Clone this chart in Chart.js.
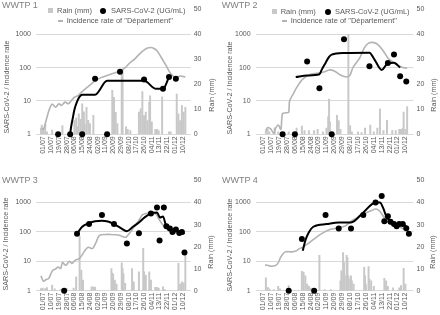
<!DOCTYPE html>
<html>
<head>
<meta charset="utf-8">
<script src="https://cdn.jsdelivr.net/npm/chart.js@4.4.0/dist/chart.umd.min.js"></script>
<style>
  body { margin: 0; width: 440px; height: 315px; background: #fff; overflow: hidden;
         font-family: "Liberation Sans", Arial, sans-serif; color: #595959; }
  canvas { position: absolute; }
  .ttl { position: absolute; font-size: 9px; line-height: 1; color: #808080; white-space: nowrap; }
  .lg { position: absolute; font-size: 7.5px; line-height: 1; white-space: nowrap; }
  .ax { position: absolute; font-size: 7.2px; line-height: 1; white-space: nowrap;
        transform: translate(-50%, -50%) rotate(-90deg); }
  .sq { position: absolute; width: 5px; height: 5px; background: #c8c8c8; }
  .dot { position: absolute; width: 6px; height: 6px; border-radius: 50%; background: #000; }
  .dash { position: absolute; width: 5px; height: 1.5px; background: #b3b3b3; }
</style>
</head>
<body>

<canvas id="c1" width="220" height="155" style="left:0;top:0"></canvas>
<canvas id="c2" width="220" height="155" style="left:220px;top:0"></canvas>
<canvas id="c3" width="220" height="160" style="left:0;top:155px"></canvas>
<canvas id="c4" width="220" height="160" style="left:220px;top:155px"></canvas>

<!-- panel titles -->
<div class="ttl" style="left:2px;top:0.5px">WWTP 1</div>
<div class="ttl" style="left:221.7px;top:0.5px">WWTP 2</div>
<div class="ttl" style="left:2px;top:175.5px">WWTP 3</div>
<div class="ttl" style="left:222px;top:175.5px">WWTP 4</div>

<!-- legends (top panels only) -->
<div class="sq" style="left:48.3px;top:8.3px"></div>
<div class="lg" style="left:57px;top:7.3px">Rain (mm)</div>
<div class="dot" style="left:100.3px;top:8px"></div>
<div class="lg" style="left:111px;top:7.3px">SARS-CoV-2 (UG/mL)</div>
<div class="dash" style="left:58px;top:20px"></div>
<div class="lg" style="left:66.7px;top:17.3px">Incidence rate of &quot;Département&quot;</div>

<div class="sq" style="left:272px;top:8.7px"></div>
<div class="lg" style="left:280.7px;top:8px">Rain (mm)</div>
<div class="dot" style="left:324.7px;top:8.7px"></div>
<div class="lg" style="left:335px;top:8px">SARS-CoV-2 (UG/mL)</div>
<div class="dash" style="left:281.7px;top:20.3px"></div>
<div class="lg" style="left:290.7px;top:17.3px">Incidence rate of &quot;Département&quot;</div>

<!-- axis titles -->
<div class="ax" style="left:6.5px;top:86.5px">SARS-CoV-2 / Incidence rate</div>
<div class="ax" style="left:229.6px;top:87.5px">SARS-CoV-2 / Incidence rate</div>
<div class="ax" style="left:6.4px;top:244px">SARS-CoV-2 / Incidence rate</div>
<div class="ax" style="left:229.6px;top:245px">SARS-CoV-2 / Incidence rate</div>
<div class="ax" style="left:211.5px;top:95px">Rain (mm)</div>
<div class="ax" style="left:433.5px;top:95px">Rain (mm)</div>
<div class="ax" style="left:210.5px;top:252px">Rain (mm)</div>
<div class="ax" style="left:433px;top:252px">Rain (mm)</div>

<script>
// x axis: days counted from 01/07, one label every 9 days
const tickLabels = ['01/07', '10/07', '19/07', '28/07', '06/08', '15/08', '24/08', '02/09', '11/09',
  '20/09', '29/09', '08/10', '17/10', '26/10', '04/11', '13/11', '22/11', '01/12', '10/12'];
const tickDays = tickLabels.map((t, i) => i * 9);

// ---- WWTP 1 ----
const rainDays1 = [-3, -2, -1, 0, 2, 4, 10, 22, 36, 38, 39, 41, 43, 45, 47, 48, 50, 52, 54, 58,
  80, 82, 84, 86, 91, 92, 96, 98, 101, 111, 113, 115, 117, 119, 121, 123, 124, 126,
  130, 132, 134, 138, 146, 148, 155, 157, 159, 161, 163, 165];
const rainMm1 = [2.5, 3.7, 2.0, 1.5, 4.0, 1.0, 1.7, 3.5, 5.5, 6.5, 3.0, 8.2, 6.0, 12.2, 9.0, 4.0, 10.8, 5.6, 4.3, 7.6,
  17.6, 14.8, 8.8, 4.3, 26, 26, 3.0, 2.0, 1.5, 8.9, 10.2, 17.1, 7.5, 8.9, 5.5, 12.8, 15.4, 5.0,
  2.0, 2.0, 1.5, 15.0, 1.0, 1.0, 16.1, 8.2, 5.5, 11.5, 8.9, 10.8];
const sarsDays1 = [17, 31, 45, 60, 74, 89, 117, 139, 146, 154];
const sarsVals1 = [1, 1, 1, 46, 1, 75, 44, 23, 52, 46];
const trendDays1 = [31, 32, 34, 36, 39, 42, 45, 60, 74, 117, 131, 139, 146];
const trendVals1 = [1, 1.6, 3, 5.5, 9.5, 13.5, 15.4, 15.4, 40, 40, 23, 23, 52];
const incDays1 = [-2, 0, 3, 7, 10, 14, 18, 21, 25, 29, 32, 36, 40, 45, 52, 60, 67, 78, 89, 95, 100,
  106, 111, 116, 121, 125, 128, 132, 137, 143, 148, 154, 159, 165];
const incVals1 = [1.5, 1.4, 2.6, 5.8, 8, 6.5, 8.2, 7.3, 9.2, 8.2, 10, 12.9, 14.5, 19, 27, 40, 50, 63, 79, 100, 135,
  180, 245, 320, 385, 400, 380, 320, 200, 110, 65, 50, 56, 52];

// ---- WWTP 2 ----
const rainDays2 = [3, 5, 7, 13, 17, 24, 29, 38, 44, 47, 52, 58, 62, 68, 72, 74, 75, 76, 84, 85, 86, 88,
  97, 99, 101, 108, 112, 116, 122, 126, 130, 133, 137, 141, 147, 151, 155, 157, 159, 160, 162, 164];
const rainMm2 = [1.5, 2, 1, 2.6, 1, 1, 1, 2.5, 3.3, 1.5, 1.5, 1.5, 2, 1, 2.5, 7, 14.1, 5, 7.6, 5.5, 5.4, 2,
  40, 3.5, 1, 1, 0.7, 2.5, 3.7, 1, 2.5, 10.2, 1.5, 5.6, 1.5, 1.5, 2, 2, 2.5, 8.9, 2, 11.1];
const sarsDays2 = [22, 36, 50, 64, 78, 92, 121, 142, 149, 156, 163];
const sarsVals2 = [1, 1, 152, 24, 1, 710, 110, 138, 245, 55, 38];
const trendDays2 = [37, 50, 64, 67, 71, 75, 78, 92, 121, 127, 135, 142, 149, 156];
const trendVals2 = [52, 58, 63, 90, 138, 210, 245, 275, 280, 170, 85, 135, 140, 100];
const incDays2 = [3, 5, 9, 12, 14, 17, 20, 21, 22, 26, 29, 30, 34, 38, 45, 54, 65, 70, 75, 81, 88, 95, 99,
  102, 110, 115, 120, 126, 131, 137, 142, 147, 153, 158, 164];
const incVals2 = [1.3, 1.6, 1.4, 1.05, 1.5, 1.9, 1.4, 2.6, 4.2, 4.4, 4.6, 10, 16, 25, 45, 63, 70, 75, 85, 79, 60, 52, 60,
  98, 195, 385, 540, 560, 480, 310, 195, 150, 118, 103, 95];

// ---- WWTP 3 ----
const rainDays3 = [-3, -2, -1, 2, 4, 10, 13, 20, 27, 35, 38, 42, 44, 46, 56, 58, 60, 79, 80, 81, 83, 85,
  91, 92, 93, 95, 103, 105, 111, 116, 117, 119, 123, 125, 130, 132, 134, 139, 141, 157, 159, 161, 163, 165];
const rainMm3 = [1, 0.6, 1.2, 1, 1.4, 2.6, 0.8, 0.5, 1, 1.2, 6.3, 24.5, 9.4, 4.8, 1.8, 1.8, 1.5, 10, 8, 7.5, 4.8, 3,
  12.7, 10, 7.8, 3.3, 10, 4, 8.6, 19.2, 8.6, 7, 8.6, 4.8, 1.5, 1.5, 1.2, 1.8, 0.5, 12.4, 3, 4, 3.6, 18.4];
const sarsDays3 = [24, 39, 53, 68, 82, 97, 111, 125, 132, 135, 140, 143, 147, 150, 154, 158, 161, 164];
const sarsVals3 = [1, 86, 185, 380, 185, 40, 90, 425, 675, 51, 675, 155, 132, 100, 120, 92, 100, 20];
const trendDays3 = [39, 45, 53, 60, 68, 75, 82, 90, 97, 104, 111, 118, 125, 132, 135.6, 139, 143, 147,
  150, 154, 158, 161, 164];
const trendVals3 = [86, 150, 200, 230, 240, 225, 185, 135, 105, 150, 210, 320, 425, 455, 310, 335, 155, 142,
  102, 120, 93, 100, 86];
const incDays3 = [-3, 0, 3, 6, 9, 11, 14, 17, 20, 22, 26, 30, 33, 37, 41, 44, 48, 52, 57, 61, 64, 67, 72, 78,
  84, 89, 93, 96, 100, 104, 108, 112, 115, 119, 123, 127, 131, 134, 138, 142, 146, 152, 158, 163];
const incVals3 = [3.2, 2.1, 2.4, 2.6, 4, 5, 5.5, 6.4, 5.7, 9, 7.3, 10, 8.5, 11, 12, 15, 23, 30, 27, 43, 70, 80, 82, 82,
  80, 76, 68, 66, 90, 130, 185, 280, 380, 420, 440, 430, 400, 280, 185, 135, 117, 95, 90, 88];

// ---- WWTP 4 ----
const rainDays4 = [3, 5, 7, 12, 17, 19, 29, 44, 46, 48, 50, 52, 54, 56, 64, 70, 77, 88, 89, 91, 92, 93,
  95, 96, 97, 99, 100, 101, 103, 115, 116, 117, 120, 121, 123, 126, 138, 140, 142, 148, 155, 157, 160, 162];
const rainMm4 = [5.8, 1.5, 0.8, 0.5, 2, 0.8, 2.3, 8.8, 8.5, 6.8, 3, 2, 1.2, 0.8, 16, 0.5, 0.5, 4.5, 9, 17.3, 12.8, 6.8,
  16, 15, 6.8, 5.3, 6.8, 4.5, 3, 10.6, 6.8, 3, 11, 5.3, 4.5, 2, 5.6, 4.5, 2, 1.3, 1.3, 2.3, 10.1, 3];
const sarsDays4 = [29, 44, 58, 71, 86, 100, 114, 128, 135, 138, 142, 145, 149, 152, 155, 159, 163, 166];
const sarsVals4 = [1, 58, 1, 375, 130, 130, 375, 1000, 1660, 230, 340, 220, 185, 155, 185, 185, 133, 86];
const trendDays4 = [45, 48, 52, 57, 72, 86, 100, 114, 128, 133, 136.5, 140, 144, 147, 151, 154.5, 158, 162, 165];
const trendVals4 = [23, 51, 97, 150, 185, 210, 210, 460, 1000, 1000, 670, 355, 240, 210, 185, 195, 200, 163, 126];
const incDays4 = [2, 5, 9, 14, 17, 20, 25, 32, 38, 41, 45, 48, 52, 58, 66, 76, 87, 94, 101, 107, 112, 118,
  123, 128, 131, 134, 139, 145, 154, 163, 166];
const incVals4 = [7.5, 7.3, 6.8, 7.2, 8.8, 14, 21, 21, 23, 27, 30, 35, 42, 58, 86, 120, 142, 163, 240, 300, 375, 460,
  525, 600, 560, 460, 275, 185, 155, 110, 100];

Chart.defaults.font.family = '"Liberation Sans", Arial, sans-serif';
Chart.defaults.font.size = 7;
Chart.defaults.color = '#595959';

function pts(xs, ys) {
  return xs.map((x, i) => ({ x: x, y: ys[i] }));
}

// one panel = rain bars (right axis) + sars dots, trend and incidence lines (log axis)
function buildPanel(id, d, box) {
  return new Chart(document.getElementById(id), {
    type: 'line',
    data: {
      datasets: [
        {
          label: 'SARS-CoV-2 (UG/mL)',
          data: pts(d.sarsDays, d.sarsVals),
          yAxisID: 'y',
          showLine: false,
          pointRadius: 3,
          pointBackgroundColor: '#000',
          pointBorderColor: '#000',
          pointBorderWidth: 0,
          clip: false,
          order: 0
        },
        {
          label: 'trend',
          data: pts(d.trendDays, d.trendVals),
          yAxisID: 'y',
          borderColor: '#000',
          borderWidth: 2,
          pointRadius: 0,
          cubicInterpolationMode: 'monotone',
          order: 1
        },
        {
          label: 'Incidence rate of "Département"',
          data: pts(d.incDays, d.incVals),
          yAxisID: 'y',
          borderColor: '#b3b3b3',
          borderWidth: 1.6,
          pointRadius: 0,
          tension: 0.3,
          order: 2
        },
        {
          type: 'bar',
          label: 'Rain (mm)',
          data: pts(d.rainDays, d.rainMm),
          yAxisID: 'y1',
          backgroundColor: '#c8c8c8',
          barThickness: 1.3,
          order: 3
        }
      ]
    },
    options: {
      responsive: false,
      animation: false,
      layout: { autoPadding: false, padding: { top: box.top, left: 0, right: 0, bottom: 0 } },
      plugins: { legend: { display: false }, tooltip: { enabled: false } },
      scales: {
        x: {
          type: 'linear',
          min: -4,
          max: 166.5,
          grid: { display: false, drawTicks: false },
          border: { display: false },
          afterBuildTicks: s => { s.ticks = tickDays.map(v => ({ value: v })); },
          afterFit: s => { s.height = box.xh; },
          ticks: {
            autoSkip: false,
            minRotation: 90,
            maxRotation: 90,
            padding: 2,
            callback: (v, i) => tickLabels[i]
          }
        },
        y: {
          type: 'logarithmic',
          position: 'left',
          min: 1,
          max: 5623.4,
          grid: { color: '#d9d9d9', drawTicks: false },
          border: { display: false },
          afterBuildTicks: s => { s.ticks = [1, 10, 100, 1000].map(v => ({ value: v })); },
          afterFit: s => { s.width = box.lw; },
          ticks: { padding: 5, callback: v => String(v) }
        },
        y1: {
          type: 'linear',
          position: 'right',
          min: 0,
          max: 50,
          grid: { display: false, drawTicks: false },
          border: { display: false },
          afterFit: s => { s.width = box.rw; },
          ticks: { stepSize: 10, padding: 3 }
        }
      }
    }
  });
}

document.addEventListener('DOMContentLoaded', () => {
  buildPanel('c1', { rainDays: rainDays1, rainMm: rainMm1, sarsDays: sarsDays1, sarsVals: sarsVals1,
    trendDays: trendDays1, trendVals: trendVals1, incDays: incDays1, incVals: incVals1 },
    { top: 7.5, lw: 36, rw: 29.3, xh: 20.7 });
  buildPanel('c2', { rainDays: rainDays2, rainMm: rainMm2, sarsDays: sarsDays2, sarsVals: sarsVals2,
    trendDays: trendDays2, trendVals: trendVals2, incDays: incDays2, incVals: incVals2 },
    { top: 7.5, lw: 35.6, rw: 26.5, xh: 20.7 });
  buildPanel('c3', { rainDays: rainDays3, rainMm: rainMm3, sarsDays: sarsDays3, sarsVals: sarsVals3,
    trendDays: trendDays3, trendVals: trendVals3, incDays: incDays3, incVals: incVals3 },
    { top: 25.5, lw: 36, rw: 29.3, xh: 24.3 });
  buildPanel('c4', { rainDays: rainDays4, rainMm: rainMm4, sarsDays: sarsDays4, sarsVals: sarsVals4,
    trendDays: trendDays4, trendVals: trendVals4, incDays: incDays4, incVals: incVals4 },
    { top: 25.5, lw: 35.6, rw: 26.5, xh: 24.3 });
});
</script>
</body>
</html>
